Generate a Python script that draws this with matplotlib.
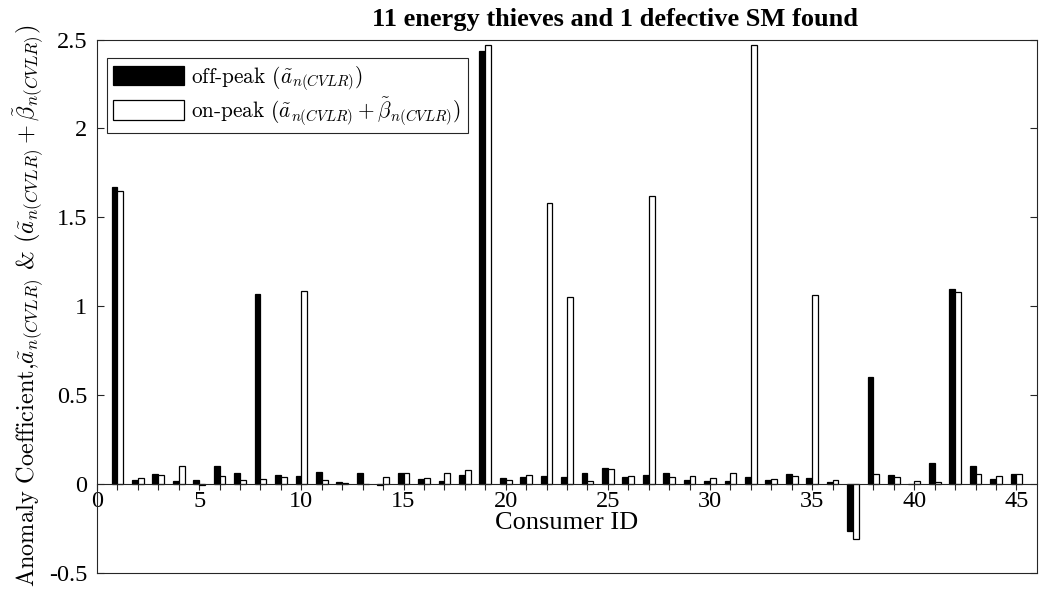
import matplotlib
matplotlib.use("Agg")
import matplotlib.pyplot as plt
import numpy as np
from matplotlib.lines import Line2D

plt.rcParams['mathtext.fontset'] = 'cm'
plt.rcParams['font.family'] = ['Liberation Serif', 'DejaVu Serif']

consumer_ids = list(range(1, 46))
off_peak = [1.672, 0.021, 0.058, 0.017, 0.025, 0.100, 0.064, 1.070, 0.053, 0.047,
            0.070, 0.011, 0.060, -0.005, 0.060, 0.026, 0.019, 0.051, 2.438, 0.032,
            0.041, 0.045, 0.040, 0.060, 0.088, 0.041, 0.049, 0.060, 0.024, 0.015,
            0.019, 0.040, 0.023, 0.054, 0.036, 0.009, -0.263, 0.603, 0.049, 0.002,
            0.118, 1.097, 0.100, 0.030, 0.056]
on_peak = [1.650, 0.034, 0.053, 0.103, -0.005, 0.047, 0.023, 0.028, 0.041, 1.087,
           0.021, 0.008, 0.003, 0.041, 0.060, 0.032, 0.060, 0.081, 2.470, 0.021,
           0.049, 1.582, 1.053, 0.019, 0.083, 0.047, 1.620, 0.038, 0.045, 0.036,
           0.060, 2.470, 0.026, 0.045, 1.063, 0.024, -0.310, 0.056, 0.037, 0.019,
           0.009, 1.080, 0.056, 0.043, 0.056]

title_text = "11 energy thieves and 1 defective SM found"
off_label = r"off-peak ($\tilde{a}_{n(CVLR)}$)"
on_label = r"on-peak ($\tilde{a}_{n(CVLR)}+\tilde{\beta}_{n(CVLR)}$)"
y_label = (r"Anomaly Coefficient,$\tilde{a}_{n(CVLR)}$ & "
           r"($\tilde{a}_{n(CVLR)}+\tilde{\beta}_{n(CVLR)}$)")
x_label = "Consumer ID"

fig = plt.figure(figsize=(10.39, 5.91), dpi=100)
ax = fig.add_axes([0.0934, 0.0305, 0.9046, 0.9025])

x = np.array(consumer_ids, dtype=float)
w = 0.286
edge = '#000000'
ax.bar(x - w / 2, off_peak, width=w, color='black', edgecolor=edge,
       linewidth=0.9, label=off_label, zorder=3)
ax.bar(x + w / 2, on_peak, width=w, color='white', edgecolor=edge,
       linewidth=0.9, label=on_label, zorder=3)

ax.set_xlim(0, 46)
ax.set_ylim(-0.5, 2.5)

axcol = '#262626'
for s in ax.spines.values():
    s.set_color(axcol)
    s.set_linewidth(0.8)
ax.spines['bottom'].set_position(('data', 0))
ax.spines['bottom'].set_zorder(4)
# closing frame line along the lower edge
ax.add_line(Line2D([0, 1], [0, 0], transform=ax.transAxes, color=axcol,
                   linewidth=0.8, clip_on=False))

ax.set_xticks(np.arange(0, 46, 5))
ax.set_xticks(np.arange(1, 46), minor=True)
ax.set_yticks([-0.5, 0, 0.5, 1, 1.5, 2, 2.5])
ax.set_yticklabels(['-0.5', '0', '0.5', '1', '1.5', '2', '2.5'])
ax.tick_params(axis='x', which='both', direction='out', length=4.3,
               width=0.8, color=axcol, labelsize=17.5, pad=0.5)
ax.tick_params(axis='y', which='both', direction='in', length=5,
               width=0.8, color=axcol, left=True, right=True,
               labelsize=17.5, pad=7)

ax.set_xlabel(x_label, fontsize=19, labelpad=0)
ax.set_ylabel(y_label, fontsize=17.5, labelpad=2, family='cmr10')
ax.set_title(title_text, fontsize=19, fontweight='bold', pad=10, x=0.551)

leg = ax.legend(loc='upper left', bbox_to_anchor=(0.0106, 0.966),
                borderaxespad=0, fancybox=False, framealpha=1,
                edgecolor=axcol, handlelength=3.3,
                handleheight=1.0, handletextpad=0.35, labelspacing=0.12,
                borderpad=0.3, prop={'family': 'cmr10', 'size': 15.3})
leg.get_frame().set_linewidth(0.8)

fig.savefig("out.png", dpi=100)
